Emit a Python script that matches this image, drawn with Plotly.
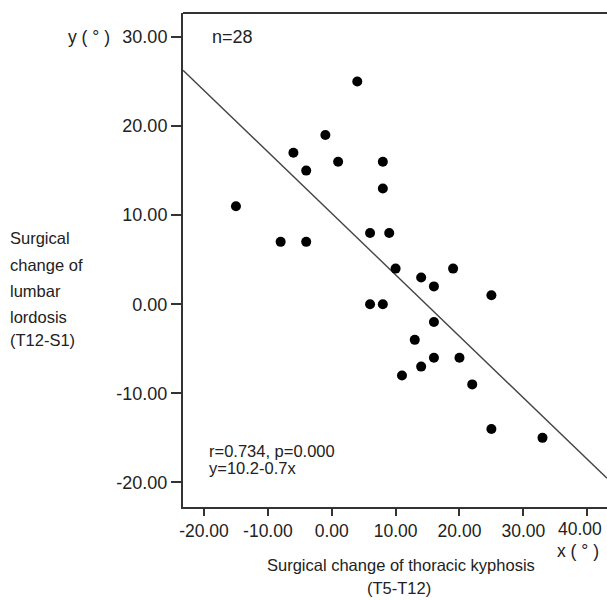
import plotly.graph_objects as go

# Data
x_vals = [-15, -8, -4, -6, -4, -1, 1, 4, 8, 8, 6, 9, 10, 14, 16, 19, 25,
          6, 8, 16, 13, 16, 14, 11, 20, 22, 25, 33]
y_vals = [11, 7, 7, 17, 15, 19, 16, 25, 16, 13, 8, 8, 4, 3, 2, 4, 1,
          0, 0, -2, -4, -6, -7, -8, -6, -9, -14, -15]

fit_intercept = 10.2
fit_slope = -0.69

x_ticks = [-20, -10, 0, 10, 20, 30, 40]
x_tick_text = ["-20.00", "-10.00", "0.00", "10.00", "20.00", "30.00", "40.00"]
y_ticks = [-20, -10, 0, 10, 20, 30]
y_tick_text = ["-20.00", "-10.00", "0.00", "10.00", "20.00", "30.00"]
x_range = [-23.29, 43.1]
y_range = [-22.76, 32.69]

FONT = "Liberation Sans, Arial, Helvetica, sans-serif"
TXT = "#222222"
AX = "#333333"

line_x = x_range
line_y = [fit_intercept + fit_slope * v for v in line_x]

# the last x tick label sits at the window edge: draw it as text pulled slightly inward
axis_tick_text = x_tick_text[:-1] + [""]

fig = go.Figure()
fig.add_trace(go.Scatter(x=line_x, y=line_y, mode="lines",
                         line=dict(color="#444444", width=1.4),
                         showlegend=False, hoverinfo="skip"))
fig.add_trace(go.Scatter(x=x_vals, y=y_vals, mode="markers",
                         marker=dict(color="black", size=10, line=dict(width=0)),
                         showlegend=False))

fig.update_layout(
    width=607, height=600,
    margin=dict(l=183, r=0, t=13, b=93, pad=0),
    paper_bgcolor="white", plot_bgcolor="white",
    font=dict(family=FONT, size=18, color=TXT),
    xaxis=dict(range=x_range, tickvals=x_ticks, ticktext=axis_tick_text,
               showgrid=False, zeroline=False, showline=True,
               linecolor=AX, linewidth=2, ticks="outside",
               ticklen=7, tickwidth=2, tickcolor=AX,
               tickfont=dict(size=17.5, family=FONT, color=TXT)),
    yaxis=dict(range=y_range, tickvals=y_ticks, ticktext=y_tick_text,
               showgrid=False, zeroline=False, showline=True,
               linecolor=AX, linewidth=2, ticks="outside",
               ticklen=10, tickwidth=2, tickcolor=AX,
               tickfont=dict(size=18, family=FONT, color=TXT)),
    shapes=[dict(type="line", xref="paper", yref="paper", x0=0, x1=1, y0=1, y1=1,
                 line=dict(color=AX, width=2))],
)

def ann(text, x, y, xref="paper", yref="paper", xanchor="center", yanchor="middle",
        size=17, align="center"):
    fig.add_annotation(text=text, x=x, y=y, xref=xref, yref=yref,
                       xanchor=xanchor, yanchor=yanchor, showarrow=False,
                       align=align, font=dict(family=FONT, size=size, color=TXT))

ann(x_tick_text[-1], 0.993, -0.0439, xanchor="right", size=17.5)
ann("y ( ° )", -0.2217, 0.951, size=17.5)
ann("x ( ° )", 0.9316, -0.0884, size=17.5)
ann("Surgical change of thoracic kyphosis", 0.5142, -0.1167, size=16.5)
ann("(T5-T12)", 0.5094, -0.1632, size=16.5)

y_title_lines = ["Surgical", "change of", "lumbar", "lordosis", "(T12-S1)"]
y_title_pos = [0.5445, 0.4899, 0.4374, 0.3848, 0.3383]
for t, p in zip(y_title_lines, y_title_pos):
    ann(t, -0.413, p, xanchor="left", align="left", size=16.5)

ann("n=28", -19.0, 30, xref="x", yref="y", xanchor="left", size=18)
ann("r=0.734, p=0.000", -19.5, -16.45, xref="x", yref="y", xanchor="left", size=16.5)
ann("y=10.2-0.7x", -19.5, -18.35, xref="x", yref="y", xanchor="left", size=16.5)

fig.write_html("out.html",
               config={"displayModeBar": False},
               post_script="document.body.style.margin='0';"
                           "document.body.style.overflow='hidden';")
